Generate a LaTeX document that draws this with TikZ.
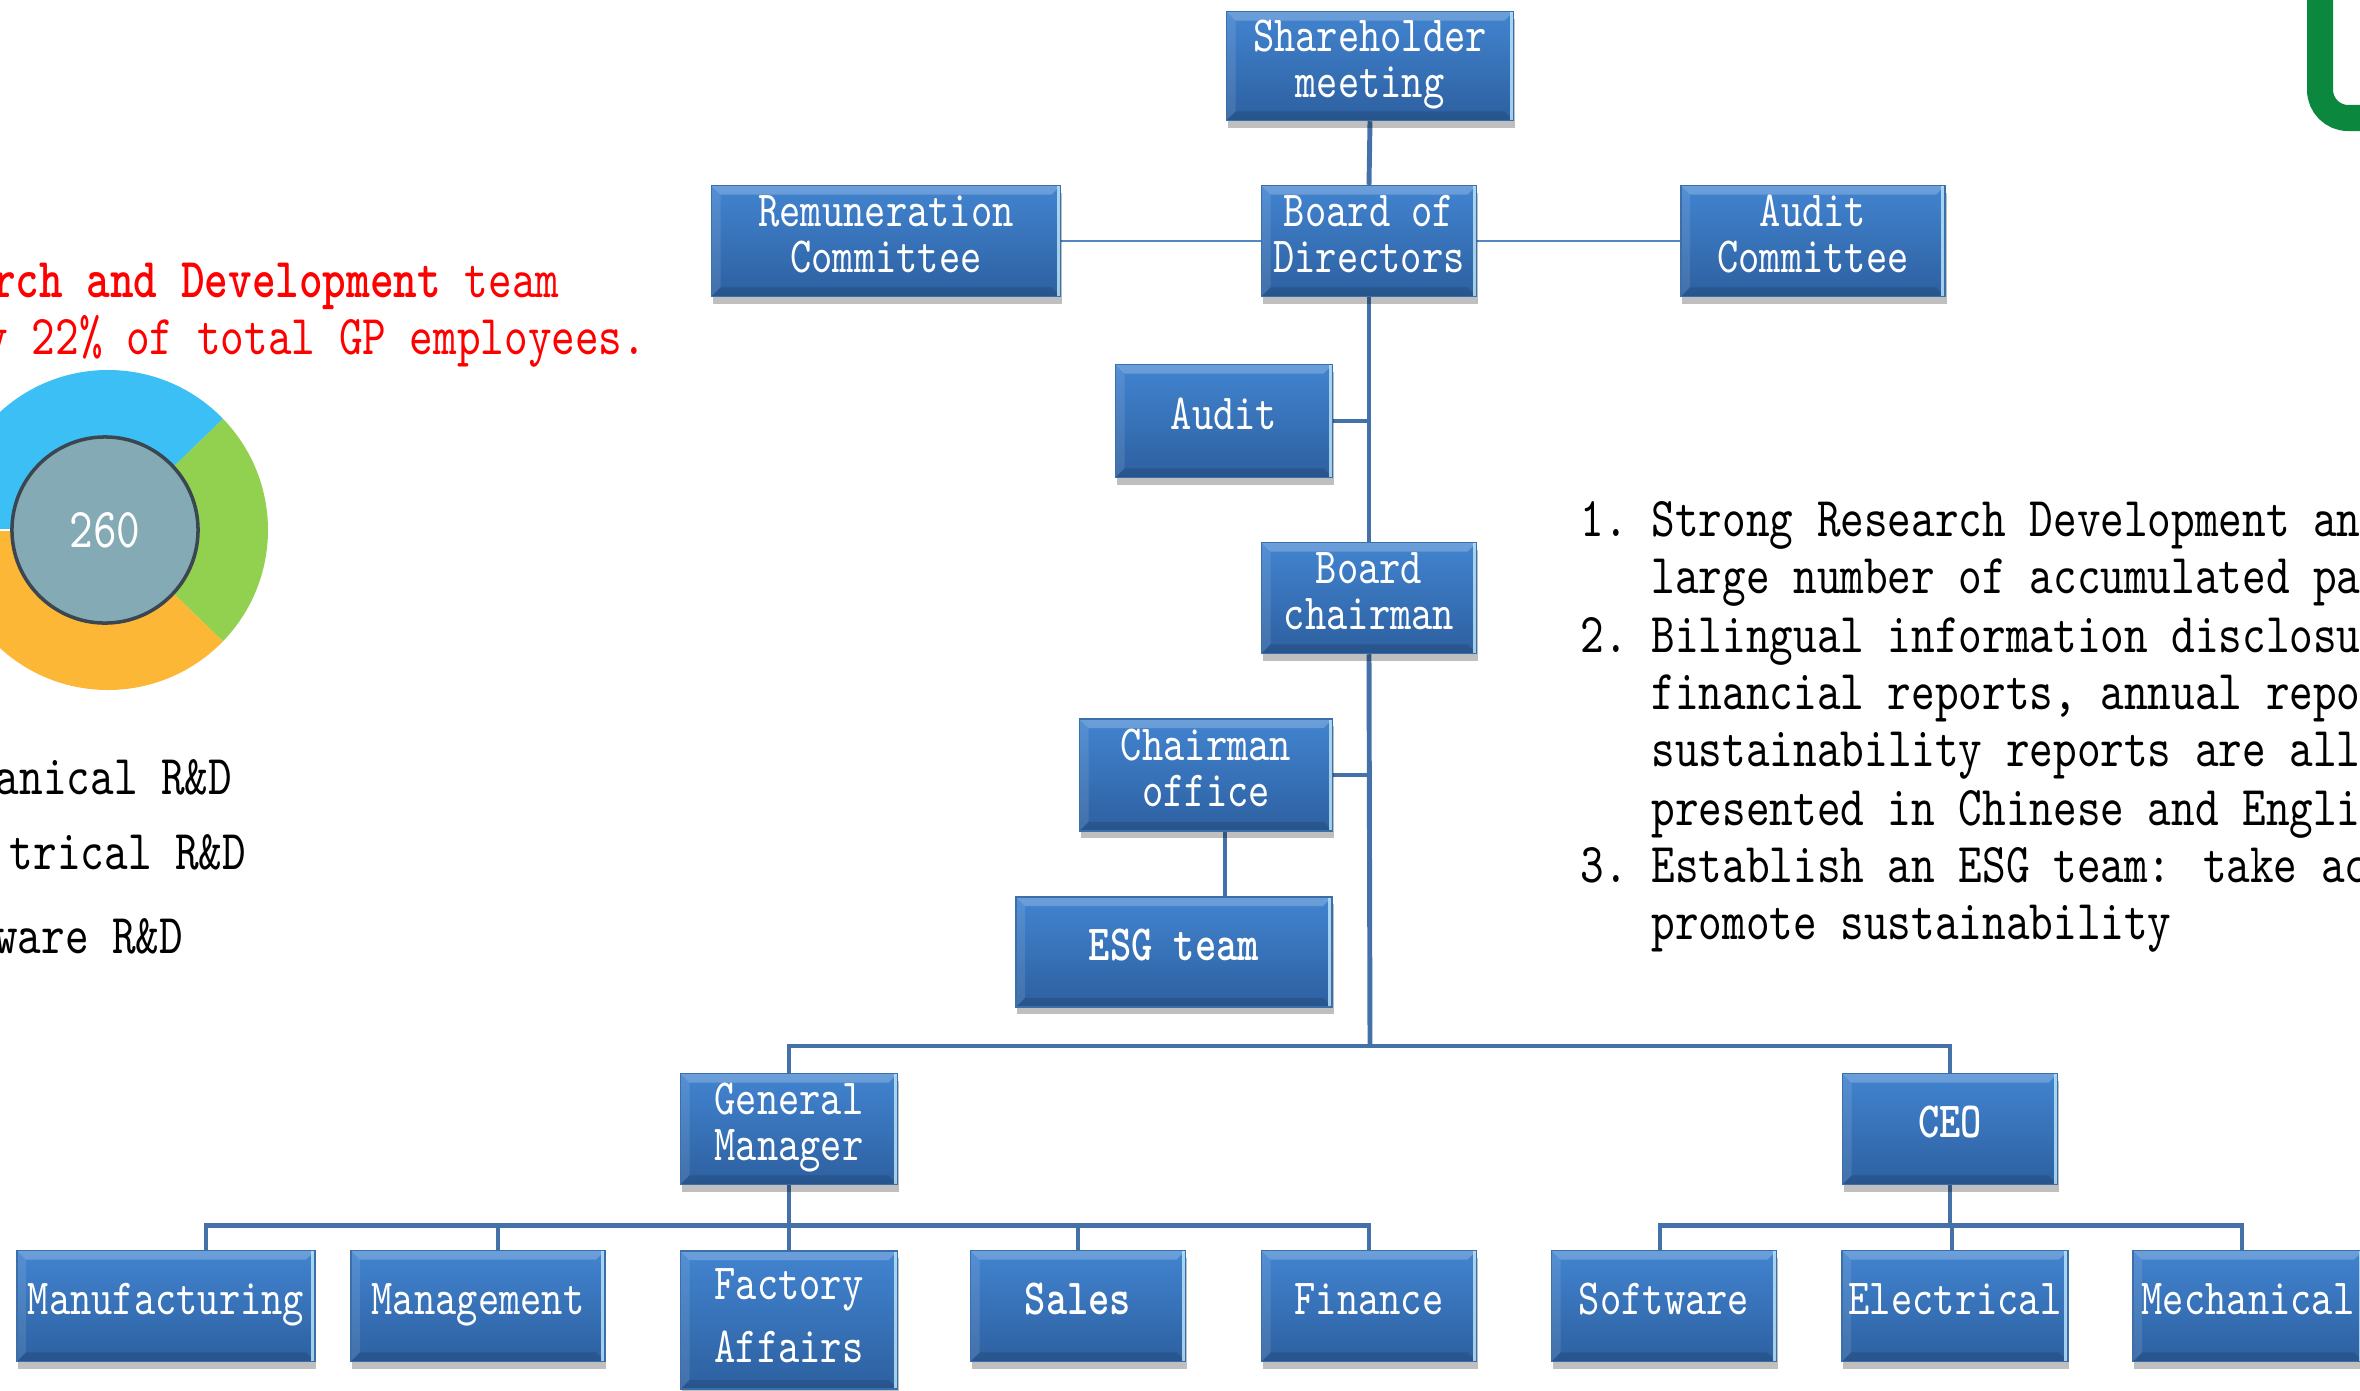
\documentclass[tikz,border=0pt]{standalone}
\usepackage{fontspec}
\usepackage{tikz}
\usetikzlibrary{shadows,backgrounds}
\newfontfamily\orgfont{lmmono10-regular}[Extension=.otf,BoldFont=lmmonolt10-bold,FakeStretch=0.8]
\definecolor{boxtop}{RGB}{66,132,208}
\definecolor{boxbot}{RGB}{45,96,160}
\definecolor{boxrim}{RGB}{60,110,170}
\definecolor{linkblue}{RGB}{68,114,168}
\definecolor{thinblue}{RGB}{84,134,194}
\definecolor{rdblue}{RGB}{59,191,245}
\definecolor{rdgreen}{RGB}{146,208,80}
\definecolor{rdorange}{RGB}{253,183,54}
\definecolor{corefill}{RGB}{132,170,181}
\definecolor{corerim}{RGB}{58,70,80}
\definecolor{logogreen}{RGB}{11,135,62}

\tikzset{
  orgbox/.style={rectangle, inner sep=0pt, align=center, text=white,
    font=\orgfont\fontsize{14.4}{13}\selectfont,
    text height=10pt, text depth=5.4pt,
    top color=boxtop, bottom color=boxbot, draw=boxrim, line width=.4pt,
    drop shadow={shadow xshift=.4pt, shadow yshift=-2pt, opacity=.25, fill=black},
    path picture={
      \coordinate (bnw) at (path picture bounding box.north west);
      \coordinate (bne) at (path picture bounding box.north east);
      \coordinate (bsw) at (path picture bounding box.south west);
      \coordinate (bse) at (path picture bounding box.south east);
      \fill[white,opacity=.22] (bnw) -- (bne) -- ([shift={(-2.6pt,-2.6pt)}]bne) -- ([shift={(2.6pt,-2.6pt)}]bnw) -- cycle;
      \fill[white,opacity=.10] (bnw) -- ([shift={(2.6pt,-2.6pt)}]bnw) -- ([shift={(2.6pt,2.6pt)}]bsw) -- (bsw) -- cycle;
      \fill[black,opacity=.12] (bsw) -- (bse) -- ([shift={(-2.6pt,2.6pt)}]bse) -- ([shift={(2.6pt,2.6pt)}]bsw) -- cycle;
      \draw[cyan!25!white, line width=.9pt, opacity=.8] ([xshift=-.6pt]bne) -- ([xshift=-.6pt]bse);
    }},
  twoline/.style={text height=22pt, text depth=4pt},
  link/.style={draw=linkblue, line width=1.4pt},
  thinlink/.style={draw=thinblue, line width=.6pt},
  sidetext/.style={inner sep=0pt, font=\orgfont\fontsize{16}{17}\selectfont},
}

\begin{document}
\begin{tikzpicture}[x=0.01cm, y=-0.01cm]
	\useasboundingbox (0,0) rectangle (2360,1390);
	\clip (0,0) rectangle (2360,1390);
	
	% logo corner
	\draw[logogreen, line width=7.4pt, rounded corners=8pt] (2320,-60) rectangle (2470,118);
	
	% R&D headline
	\node[sidetext, text=red, anchor=base east] (rdhead) at (560,297) {\textbf{rch and Development} team};
	\node[sidetext, text=red, anchor=base east] (rdshare) at (647,354) {y 22\% of total GP employees.};
	
	% donut
	\begin{scope}[shift={(108,530)}, y=0.01cm]
		\foreach \a/\b/\c in {44/180/rdblue, 180/316/rdorange, -44/44/rdgreen}
			\fill[\c] (0,0) -- (\a:160) arc[start angle=\a, end angle=\b, radius=160] -- cycle;
		\draw[white, line width=.8pt] (0,0) -- (180:160);
		\node[circle, fill=corefill, draw=corerim, line width=1pt, minimum size=1.86cm,
			text=white, font=\orgfont\fontsize{16}{17}\selectfont] (total) at (-3,0) {260};
	\end{scope}
	
	% legend
	\node[sidetext, anchor=base east] (legmech) at (233,794) {anical R\&D};
	\node[sidetext, anchor=base east] (legelec) at (247,869) {trical R\&D};
	\node[sidetext, anchor=base east] (legsoft) at (184,953) {ware R\&D};
	
	% numbered notes
	\node[sidetext, anchor=base west] (num1) at (1580,536) {1.};
	\node[sidetext, anchor=base west] (num2) at (1580,652) {2.};
	\node[sidetext, anchor=base west] (num3) at (1580,882) {3.};
	\foreach \t/\y [count=\i] in {
		{Strong Research Development an}/536,
		{large number of accumulated pa}/593,
		{Bilingual information disclosu}/652,
		{financial reports, annual repo}/709,
		{sustainability reports are all}/766,
		{presented in Chinese and Engli}/825,
		{Establish an ESG team: take ac}/882,
		{promote sustainability}/939}
		\node[sidetext, anchor=base west] (note\i) at (1651,\y) {\t};
	
	% draw boxes
	\node[orgbox, twoline, minimum width=2.87cm, minimum height=1.09cm] (share) at (1370,66) {Shareholder\\meeting};
	\node[orgbox, twoline, minimum width=2.15cm, minimum height=1.11cm] (board) at (1369,241) {Board of\\Directors};
	\node[orgbox, twoline, minimum width=3.49cm, minimum height=1.11cm] (remun) at (886,241) {Remuneration\\Committee};
	\node[orgbox, twoline, minimum width=2.64cm, minimum height=1.11cm] (auditc) at (1813,241) {Audit\\Committee};
	\node[orgbox, minimum width=2.17cm, minimum height=1.13cm] (audit) at (1224,421) {Audit};
	\node[orgbox, twoline, minimum width=2.15cm, minimum height=1.11cm] (chair) at (1369,598) {Board\\chairman};
	\node[orgbox, twoline, minimum width=2.53cm, minimum height=1.12cm] (office) at (1206,775) {Chairman\\office};
	\node[orgbox, minimum width=3.16cm, minimum height=1.10cm] (esg) at (1174,952) {\textbf{ESG team}};
	\node[orgbox, twoline, minimum width=2.17cm, minimum height=1.11cm] (gm) at (789,1129) {General\\Manager};
	\node[orgbox, minimum width=2.15cm, minimum height=1.11cm] (ceo) at (1950,1129) {\textbf{CEO}};
	
	% bottom row
	\node[orgbox, minimum width=2.98cm, minimum height=1.11cm] (manu) at (166,1306) {Manufacturing};
	\node[orgbox, minimum width=2.54cm, minimum height=1.11cm] (mgmt) at (478,1306) {Management};
	\node[orgbox, text height=27.5pt, text depth=3.3pt, minimum width=2.17cm, minimum height=1.38cm] (factory) at (789,1320) {Factory\\[5pt]Affairs};
	\node[orgbox, minimum width=2.15cm, minimum height=1.11cm] (sales) at (1078,1306) {\textbf{Sales}};
	\node[orgbox, minimum width=2.15cm, minimum height=1.11cm] (finance) at (1369,1306) {Finance};
	\node[orgbox, minimum width=2.25cm, minimum height=1.11cm] (soft) at (1664,1306) {Software};
	\node[orgbox, minimum width=2.26cm, minimum height=1.11cm] (elec) at (1955,1306) {Electrical};
	\node[orgbox, minimum width=2.30cm, minimum height=1.11cm] (mech) at (2248,1306) {Mechanical};
	
	\coordinate (split) at (1370,1046);
	\coordinate (esgjoin) at (1225,0);
	
	% draw connectors
	\begin{scope}[on background layer]
		\draw[link] (share.south) -- (board.north);
		\draw[link] (board.south) -- (chair.north);
		\draw[link] (chair.south) -- (split);
		\draw[thinlink] (remun.east) -- (board.west);
		\draw[thinlink] (board.east) -- (auditc.west);
		\draw[link] (audit.east) -- (audit.east -| board.south);
		\draw[link] (office.east) -- (office.east -| chair.south);
		\draw[link] (office.south -| esgjoin) -- (esg.north -| esgjoin);
		\draw[link] (gm.north) |- (split) -| (ceo.north);
		\foreach \k/\s in {manu/.4cm, mgmt/.2cm, factory/0cm, sales/0cm, finance/0cm}
			\draw[link] (gm.south) -- ++(0,40) -| ([xshift=\s]\k.north);
		\foreach \k/\s in {soft/-.04cm, elec/-.03cm, mech/-.06cm}
			\draw[link] (ceo.south) -- ++(0,40) -| ([xshift=\s]\k.north);
	\end{scope}
\end{tikzpicture}
\end{document}
